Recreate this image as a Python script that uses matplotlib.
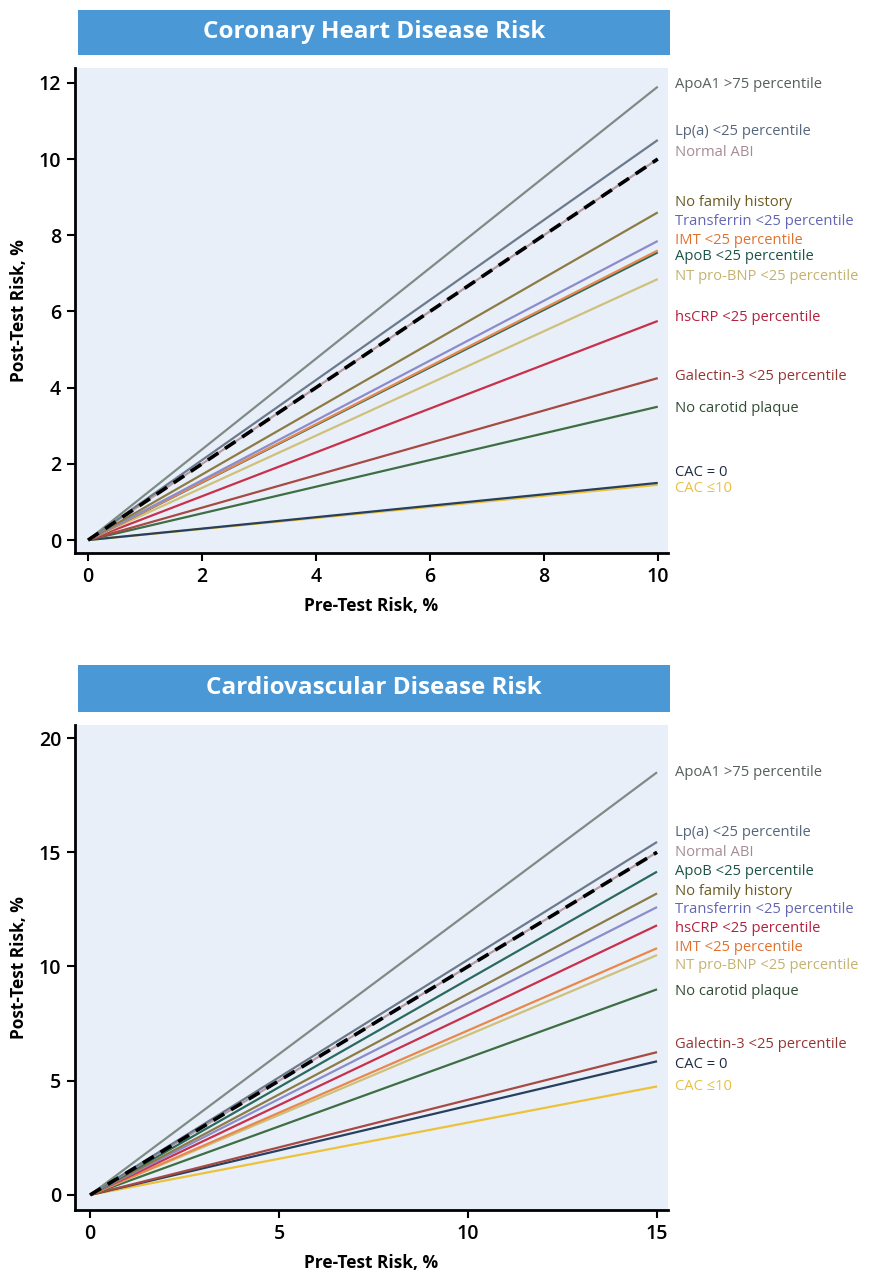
import numpy as np
import matplotlib
matplotlib.use("Agg")
import matplotlib.pyplot as plt
from matplotlib.patches import Rectangle
import matplotlib.transforms as mtransforms

plt.rcParams['font.family'] = ['Open Sans', 'DejaVu Sans']

# series names, in the order the labels are stacked on the right
chd_names = ["ApoA1 >75 percentile", "Lp(a) <25 percentile", "Normal ABI",
             "No family history", "Transferrin <25 percentile", "IMT <25 percentile",
             "ApoB <25 percentile", "NT pro-BNP <25 percentile", "hsCRP <25 percentile",
             "Galectin-3 <25 percentile", "No carotid plaque", "CAC = 0", "CAC \u226410"]
# post-test risk at pre-test risk 10 %
chd_pre = [0, 10]
chd_post = [11.9, 10.5, 10.0, 8.6, 7.85, 7.6, 7.55, 6.85, 5.75, 4.25, 3.5, 1.5, 1.45]

cvd_names = ["ApoA1 >75 percentile", "Lp(a) <25 percentile", "Normal ABI",
             "ApoB <25 percentile", "No family history", "Transferrin <25 percentile",
             "hsCRP <25 percentile", "IMT <25 percentile", "NT pro-BNP <25 percentile",
             "No carotid plaque", "Galectin-3 <25 percentile", "CAC = 0", "CAC \u226410"]
# post-test risk at pre-test risk 15 %
cvd_pre = [0, 15]
cvd_post = [18.5, 15.45, 15.0, 14.15, 13.2, 12.6, 11.8, 10.8, 10.5, 9.0, 6.25, 5.85, 4.75]

line_col = {"ApoA1 >75 percentile": "#7d8c86", "Lp(a) <25 percentile": "#6b7a8c",
            "Normal ABI": "#b49aa0", "No family history": "#8c7b44",
            "Transferrin <25 percentile": "#8a8ccc", "IMT <25 percentile": "#e8884a",
            "ApoB <25 percentile": "#2a6a5e", "NT pro-BNP <25 percentile": "#cfc07a",
            "hsCRP <25 percentile": "#c8304c", "Galectin-3 <25 percentile": "#a84a44",
            "No carotid plaque": "#3e6e44", "CAC = 0": "#27405e", "CAC \u226410": "#ecc23a"}
text_col = {"ApoA1 >75 percentile": "#55605a", "Lp(a) <25 percentile": "#56667c",
            "Normal ABI": "#a58c94", "No family history": "#6a5a22",
            "Transferrin <25 percentile": "#6466b4", "IMT <25 percentile": "#e0722e",
            "ApoB <25 percentile": "#1c5446", "NT pro-BNP <25 percentile": "#c4b26e",
            "hsCRP <25 percentile": "#b42040", "Galectin-3 <25 percentile": "#963634",
            "No carotid plaque": "#304c34", "CAC = 0": "#1c2a44", "CAC \u226410": "#e8c040"}

# label heights (data units) so they don't overlap
chd_lab_y = [11.97, 10.73, 10.16, 8.87, 8.37, 7.87, 7.43, 6.93, 5.83, 4.28, 3.46, 1.78, 1.34]
cvd_lab_y = [18.5, 15.85, 15.0, 14.15, 13.3, 12.5, 11.65, 10.85, 10.05, 8.9, 6.6, 5.7, 4.75]

W, H = 879, 1272
fig = plt.figure(figsize=(W / 100, H / 100), dpi=100)
bg = "#e9eff8"
banner = "#4b98d6"


def panel(top_px, bot_px, title, ban_top, ban_bot, pre, post, names, lab_y,
          xlim, ylim, xticks, yticks):
    ax = fig.add_axes([75 / W, 1 - bot_px / H, (668 - 75) / W, (bot_px - top_px) / H])
    ax.set_facecolor(bg)
    for nm, v in reversed(list(zip(names, post))):
        ax.plot(pre, [0, v], color=line_col[nm], lw=1.6, solid_capstyle="butt")
    ax.plot(pre, pre, color="black", lw=2.6, ls=(0, (3.5, 2.2)))
    ax.set_xlim(*xlim)
    ax.set_ylim(*ylim)
    ax.set_xticks(xticks)
    ax.set_yticks(yticks)
    for s in ["top", "right"]:
        ax.spines[s].set_visible(False)
    for s in ["left", "bottom"]:
        ax.spines[s].set_linewidth(2)
    ax.tick_params(width=1.5, length=6, labelsize=14, colors="black", pad=4)
    for t in ax.get_xticklabels() + ax.get_yticklabels():
        t.set_fontweight("semibold")
    ax.set_xlabel("Pre-Test Risk, %", fontsize=12.5, fontweight="bold", labelpad=7)
    ax.set_ylabel("Post-Test Risk, %", fontsize=12.5, fontweight="bold", labelpad=8)
    tr = mtransforms.blended_transform_factory(ax.transAxes, ax.transData)
    for nm, yy in zip(names, lab_y):
        ax.text(1.012, yy, nm, transform=tr, fontsize=10.6, color=text_col[nm],
                va="center", ha="left", clip_on=False, fontweight="medium")
    fig.add_artist(Rectangle((78 / W, 1 - ban_bot / H), (670 - 78) / W, (ban_bot - ban_top) / H,
                             transform=fig.transFigure, facecolor=banner, edgecolor="none"))
    fig.text((78 + 670) / 2 / W, 1 - (ban_top + ban_bot) / 2 / H, title, color="white",
             fontsize=17.5, fontweight="bold", ha="center", va="center")
    return ax


panel(68, 553, "Coronary Heart Disease Risk", 10, 55, chd_pre, chd_post, chd_names,
      chd_lab_y, (-0.23, 10.18), (-0.34, 12.39), [0, 2, 4, 6, 8, 10], [0, 2, 4, 6, 8, 10, 12])
panel(725, 1210, "Cardiovascular Disease Risk", 665, 712, cvd_pre, cvd_post, cvd_names,
      cvd_lab_y, (-0.40, 15.29), (-0.66, 20.57), [0, 5, 10, 15], [0, 5, 10, 15, 20])

fig.savefig("out.png", dpi=100, facecolor="white")
